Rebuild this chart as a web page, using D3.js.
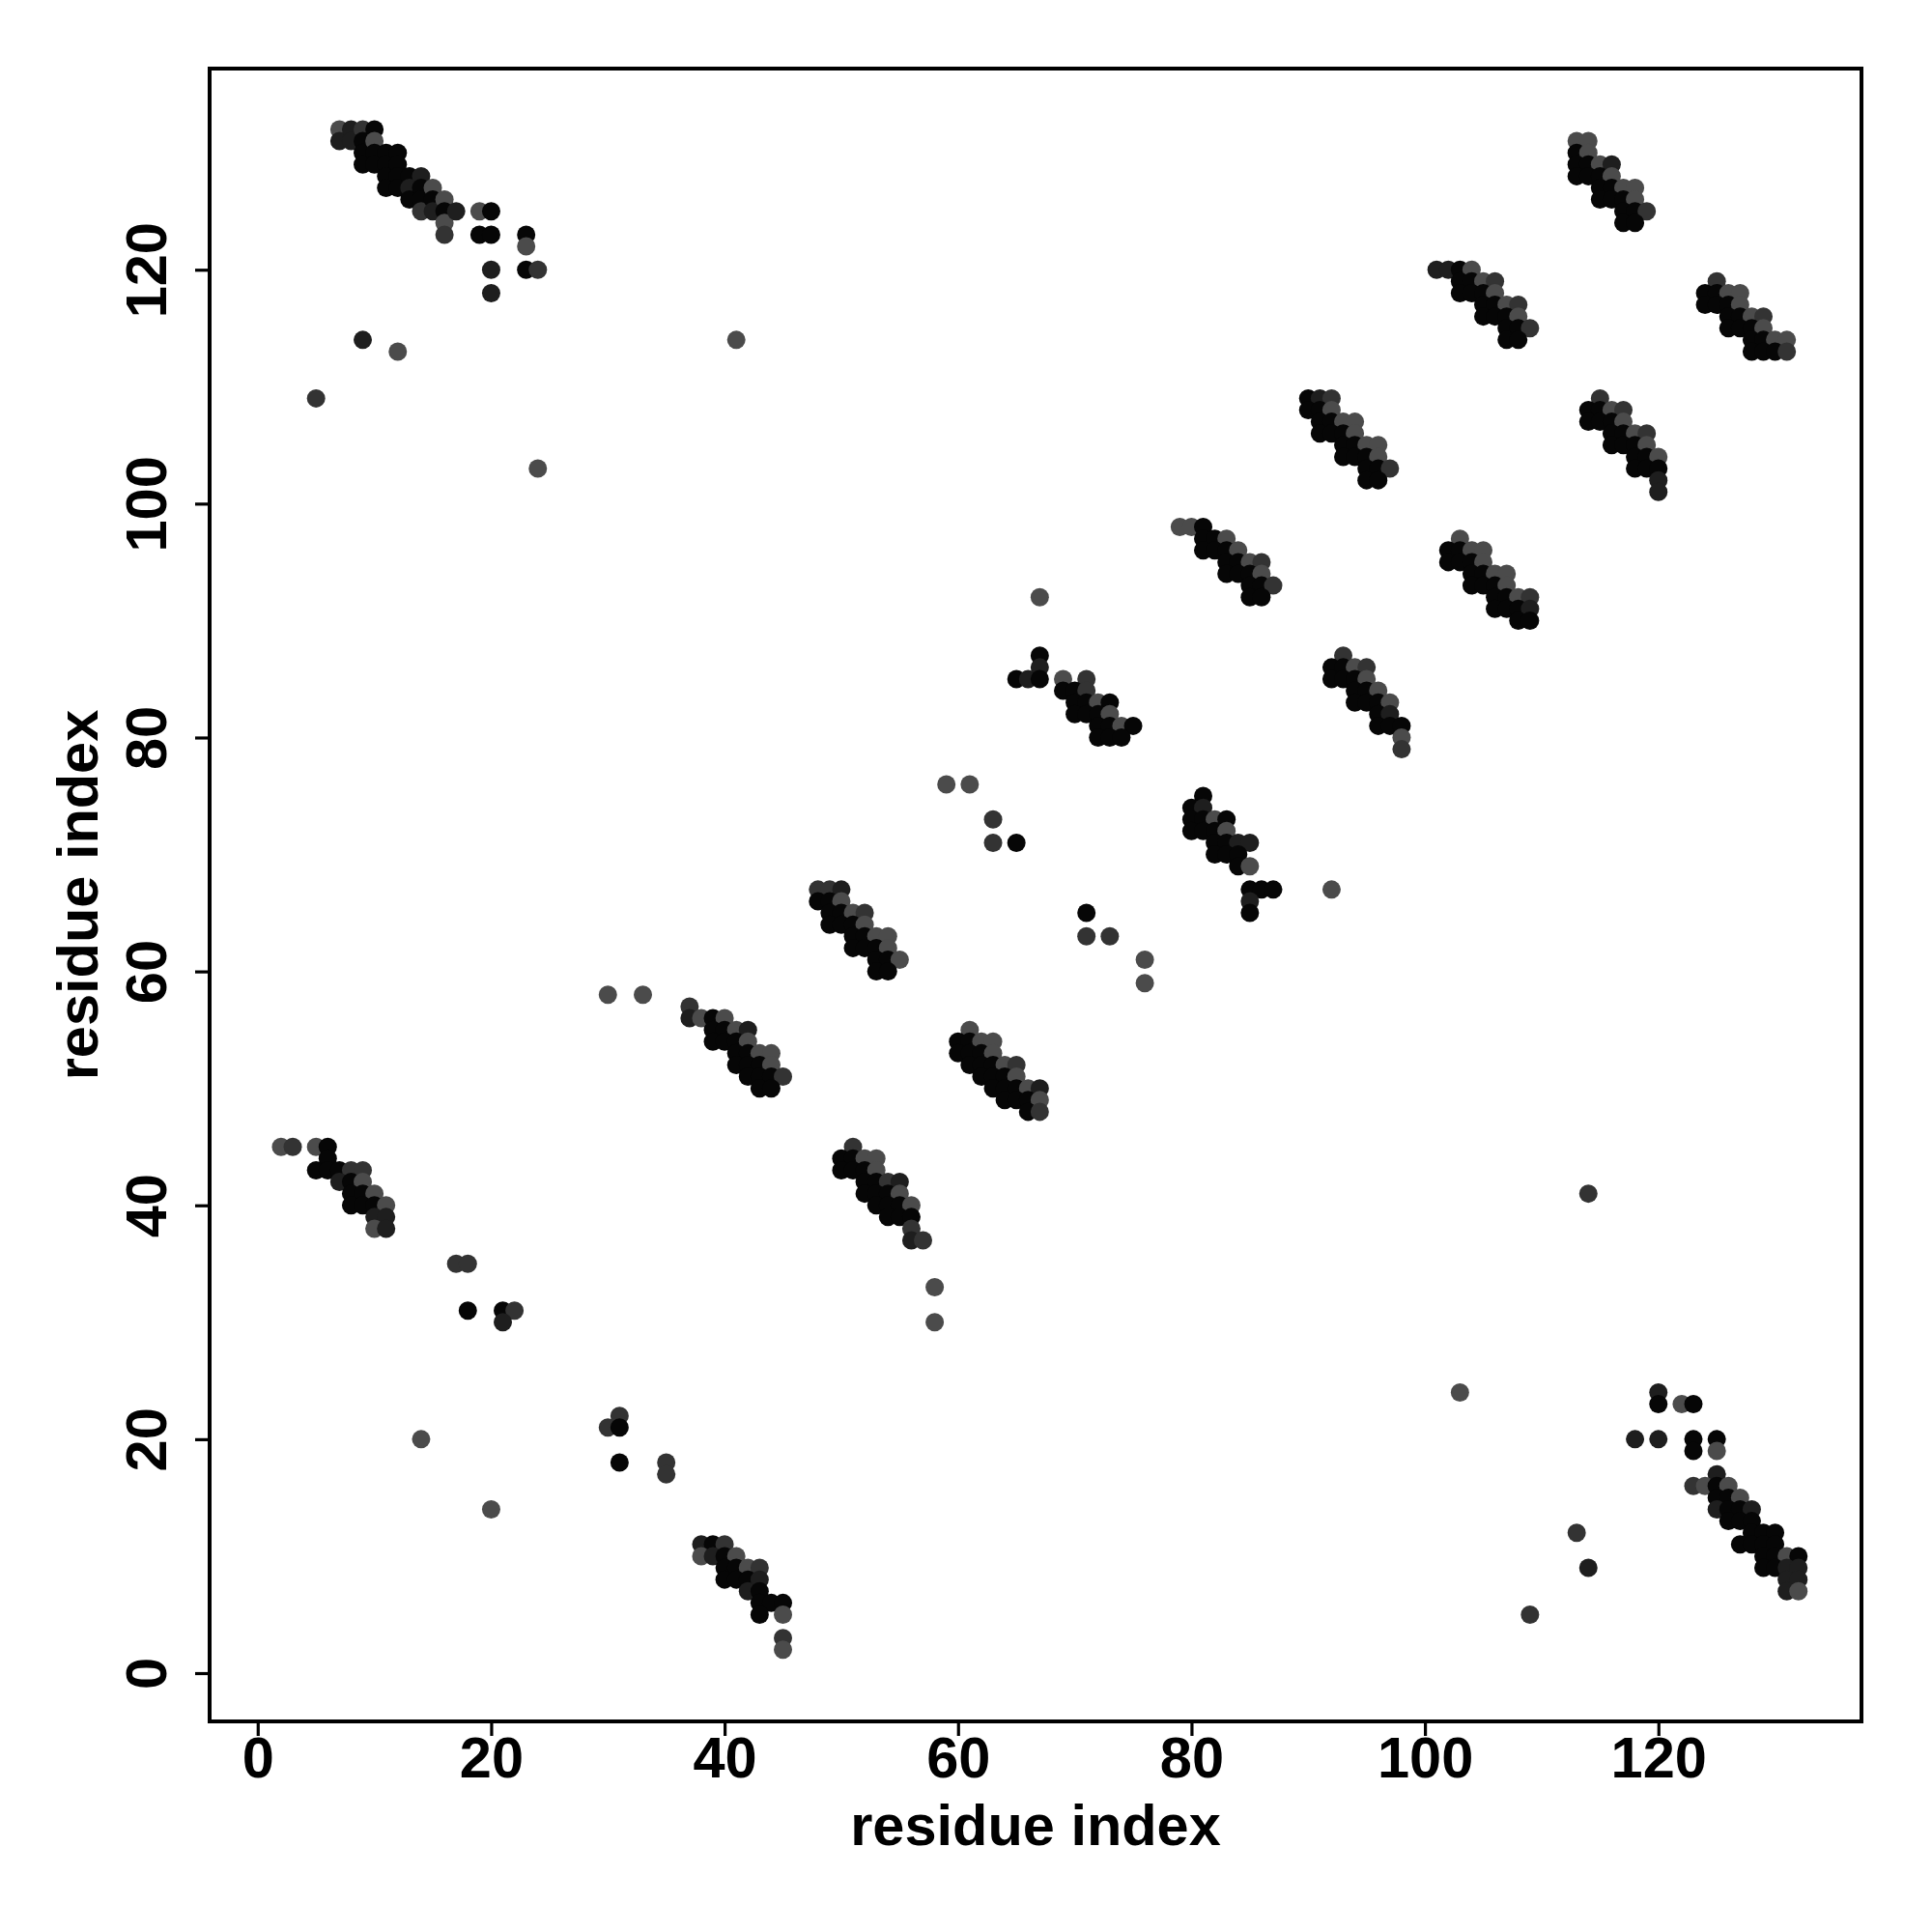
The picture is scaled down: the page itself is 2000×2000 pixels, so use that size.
<!DOCTYPE html>
<html>
<head>
<meta charset="utf-8">
<script src="https://cdn.jsdelivr.net/npm/d3@7"></script>
<style>
  html, body { margin: 0; padding: 0; background: #ffffff; }
  svg { display: block; }
  text { font-family: "Liberation Sans", Arial, Helvetica, sans-serif; font-weight: bold; }
</style>
</head>
<body>
<script>
// ---- data: contacts as [residue i, residue j, tone] ; tone 0 = darkest ... 3 = lightest grey ----
const xTicks = [0, 20, 40, 60, 80, 100, 120];
const yTicks = [0, 20, 40, 60, 80, 100, 120];
const axisLabelX = "residue index";
const axisLabelY = "residue index";
const toneColors = ["#060606", "#1e1e1e", "#333333", "#4b4b4b"];

const bandTopLeft = [
  [7,132,3],[7,131,1],[8,132,1],[8,131,1],[9,132,2],[9,131,0],[9,130,0],[9,129,0],
  [10,132,0],[10,131,3],[10,130,0],[10,129,0],[11,130,0],[11,129,0],[11,128,0],[11,127,0],
  [12,130,0],[12,129,0],[12,128,0],[12,127,0],[13,128,0],[13,127,1],[13,126,0],
  [14,128,1],[14,127,0],[14,126,0],[14,125,2],[15,127,3],[15,126,0],[15,125,1],
  [16,126,3],[16,125,0],[16,124,3],[16,123,2],[17,125,1],[19,125,3],[19,123,0],
  [20,125,0],[20,123,0],[20,120,1],[20,118,1],[23,123,0],[23,122,3],[23,120,0],[24,120,2]
];
const scatterTopLeft = [[9,114,1],[12,113,3],[5,109,2],[24,103,3],[41,114,3]];

const bandLeft = [
  [2,45,3],[3,45,2],[5,45,3],[6,45,0],[6,44,0],[5,43,0],[6,43,0],[7,43,0],[8,43,2],[9,43,2],
  [7,42,1],[8,42,0],[9,42,3],[8,41,0],[9,41,0],[10,41,3],[8,40,0],[9,40,0],[10,40,0],[11,40,3],
  [10,39,1],[11,39,1],[10,38,3],[11,38,1]
];
const scatterLeft = [[17,35,2],[18,35,2],[18,31,0],[21,31,0],[22,31,2],[21,30,1],[14,20,3],[20,14,3]];

const bandBottom = [
  [31,22,2],[30,21,2],[31,21,0],[31,18,0],[35,18,2],[35,17,2],
  [38,11,1],[39,11,0],[40,11,2],[38,10,3],[39,10,1],[40,10,0],[41,10,3],[40,9,0],[41,9,0],[42,9,3],[43,9,2],
  [40,8,0],[41,8,0],[42,8,0],[43,8,1],[42,7,1],[43,7,0],[43,6,0],[44,6,0],[45,6,0],[43,5,0],[45,5,3],
  [45,3,2],[45,2,3]
];

const band37_57 = [
  [30,58,3],[33,58,3],
  [37,57,2],[37,56,1],[38,56,3],[39,56,0],[40,56,3],[39,55,0],[40,55,0],[41,55,3],[42,55,1],
  [39,54,0],[40,54,0],[41,54,0],[42,54,3],[41,53,0],[42,53,0],[43,53,3],[44,53,3],
  [41,52,0],[42,52,0],[43,52,0],[44,52,3],[42,51,0],[43,51,0],[44,51,0],[45,51,2],[43,50,0],[44,50,0]
];
const band50_45 = [
  [51,45,2],[50,44,0],[51,44,0],[52,44,3],[53,44,3],[50,43,0],[51,43,0],[52,43,0],[53,43,3],
  [52,42,0],[53,42,0],[54,42,2],[55,42,1],[52,41,0],[53,41,0],[54,41,0],[55,41,3],
  [53,40,0],[54,40,0],[55,40,0],[56,40,3],[54,39,0],[55,39,0],[56,39,0],[56,38,2],[56,37,1],[57,37,2],
  [58,33,3],[58,30,3]
];
const band48_67 = [
  [48,67,2],[49,67,2],[50,67,1],[48,66,0],[49,66,0],[50,66,3],[49,65,0],[50,65,0],[51,65,3],[52,65,2],
  [49,64,0],[50,64,0],[51,64,0],[52,64,3],[51,63,0],[52,63,0],[53,63,3],[54,63,3],
  [51,62,0],[52,62,0],[53,62,0],[54,62,3],[53,61,0],[54,61,0],[55,61,3],[53,60,0],[54,60,0]
];
const band60_55 = [
  [61,55,3],[60,54,0],[61,54,0],[62,54,3],[63,54,3],[60,53,0],[61,53,0],[62,53,0],[63,53,3],
  [61,52,0],[62,52,0],[63,52,0],[64,52,3],[65,52,2],[62,51,0],[63,51,0],[64,51,0],[65,51,3],
  [63,50,0],[64,50,0],[65,50,0],[66,50,3],[67,50,1],[64,49,0],[65,49,0],[66,49,0],[67,49,3],
  [66,48,0],[67,48,2]
];
const band65_87 = [
  [67,92,3],[67,87,0],[67,86,1],[65,85,0],[66,85,1],[67,85,0],
  [69,85,3],[71,85,2],[69,84,0],[70,84,0],[71,84,2],[70,83,0],[71,83,0],[72,83,3],[73,83,0],
  [70,82,0],[71,82,0],[72,82,0],[73,82,3],[72,81,0],[73,81,0],[74,81,3],[75,81,0],[72,80,0],[73,80,0],[74,80,0]
];
const scatterMiddle = [
  [59,76,3],[61,76,3],[63,73,2],[63,71,2],[65,71,0],[71,65,0],[71,63,2],[73,63,2],[76,61,3],[76,59,3],[92,67,3]
];
const band80_75 = [
  [81,75,0],[80,74,0],[81,74,1],[80,73,0],[81,73,0],[82,73,3],[83,73,0],[80,72,0],[81,72,0],[82,72,0],[83,72,3],
  [82,71,0],[83,71,0],[84,71,1],[85,71,1],[82,70,0],[83,70,0],[84,70,0],[84,69,0],[85,69,3],
  [85,67,0],[86,67,0],[87,67,0],[85,66,1],[85,65,0]
];
const band79_98 = [
  [79,98,3],[80,98,3],[81,98,0],[81,97,0],[82,97,0],[83,97,3],[81,96,0],[82,96,0],[83,96,0],[84,96,3],
  [83,95,0],[84,95,0],[85,95,3],[86,95,2],[83,94,0],[84,94,0],[85,94,0],[86,94,3],
  [85,93,0],[86,93,0],[87,93,2],[85,92,0],[86,92,0]
];
const band90_109 = [
  [90,109,0],[91,109,1],[92,109,2],[90,108,0],[91,108,0],[92,108,3],[91,107,0],[92,107,0],[93,107,3],[94,107,3],
  [91,106,0],[92,106,0],[93,106,0],[94,106,3],[93,105,0],[94,105,0],[95,105,3],[96,105,3],
  [93,104,0],[94,104,0],[95,104,0],[96,104,3],[95,103,0],[96,103,0],[97,103,2],[95,102,0],[96,102,0]
];
const band92_87 = [
  [93,87,2],[92,86,0],[93,86,0],[94,86,3],[95,86,2],[92,85,0],[93,85,0],[94,85,0],[95,85,3],
  [94,84,0],[95,84,0],[96,84,3],[94,83,0],[95,83,0],[96,83,0],[97,83,3],[96,82,0],[97,82,1],
  [96,81,0],[97,81,0],[98,81,0],[98,80,3],[98,79,2]
];
const band101_120 = [
  [101,120,1],[102,120,1],[103,120,0],[104,120,3],[103,119,0],[104,119,0],[105,119,3],[106,119,2],
  [103,118,0],[104,118,0],[105,118,0],[106,118,3],[105,117,0],[106,117,0],[107,117,3],[108,117,2],
  [105,116,0],[106,116,0],[107,116,0],[108,116,3],[107,115,0],[108,115,0],[109,115,2],[107,114,0],[108,114,0]
];
const band102_97 = [
  [103,97,3],[102,96,0],[103,96,0],[104,96,3],[105,96,3],[102,95,0],[103,95,0],[104,95,0],[105,95,3],
  [104,94,0],[105,94,0],[106,94,3],[107,94,3],[104,93,0],[105,93,0],[106,93,0],[107,93,3],
  [106,92,0],[107,92,0],[108,92,3],[109,92,2],[106,91,0],[107,91,0],[108,91,0],[109,91,1],[108,90,0],[109,90,0]
];
const band113_131 = [
  [113,131,3],[114,131,3],[113,130,0],[114,130,3],[113,129,0],[114,129,0],[115,129,3],[116,129,1],
  [113,128,0],[114,128,0],[115,128,0],[116,128,3],[115,127,0],[116,127,0],[117,127,3],[118,127,3],
  [115,126,0],[116,126,0],[117,126,0],[118,126,3],[117,125,0],[118,125,0],[119,125,2],[117,124,0],[118,124,0]
];
const band114_109 = [
  [115,109,2],[114,108,0],[115,108,0],[116,108,3],[117,108,2],[114,107,0],[115,107,0],[116,107,0],[117,107,3],
  [116,106,0],[117,106,0],[118,106,3],[119,106,2],[116,105,0],[117,105,0],[118,105,0],[119,105,3],
  [118,104,0],[119,104,0],[120,104,3],[118,103,0],[119,103,0],[120,103,0],[120,102,1],[120,101,1]
];
const band124_119 = [
  [125,119,2],[124,118,0],[125,118,0],[126,118,3],[127,118,3],[124,117,0],[125,117,0],[126,117,0],[127,117,3],
  [126,116,0],[127,116,0],[128,116,3],[129,116,2],[126,115,0],[127,115,0],[128,115,0],[129,115,3],
  [128,114,0],[129,114,0],[130,114,3],[131,114,3],[128,113,0],[129,113,0],[130,113,0],[131,113,2]
];
const bandBottomRight = [
  [120,24,1],[120,23,0],[122,23,3],[123,23,0],[118,20,1],[120,20,1],[123,20,0],[125,20,0],[123,19,0],[125,19,3],
  [125,17,1],[123,16,2],[124,16,3],[125,16,0],[126,16,3],[125,15,0],[126,15,0],[127,15,3],
  [125,14,1],[126,14,0],[127,14,0],[128,14,1],[126,13,0],[127,13,0],[128,13,0],[128,12,0],[129,12,0],[130,12,0],
  [127,11,0],[128,11,0],[129,11,0],[130,11,0],[129,10,0],[130,10,0],[131,10,3],[132,10,0],
  [129,9,0],[130,9,0],[131,9,1],[132,9,1],[131,8,1],[132,8,1],[131,7,1],[132,7,3]
];
const scatterRight = [[114,41,2],[103,24,3],[113,12,2],[114,9,1],[109,5,2]];

const contacts = [].concat(
  bandTopLeft, scatterTopLeft, bandLeft, scatterLeft, bandBottom, band37_57, band50_45,
  band48_67, band60_55, band65_87, scatterMiddle, band80_75, band79_98, band90_109, band92_87,
  band101_120, band102_97, band113_131, band114_109, band124_119, bandBottomRight, scatterRight
);

// ---- layout ----
const W = 2000, H = 2000;
const plot = { left: 217, right: 1927, top: 71, bottom: 1782 };

const x = d3.scaleLinear()
  .domain([-4.12, 137.4])
  .range([plot.left, plot.right]);
const y = d3.scaleLinear()
  .domain([-4.13, 137.2])
  .range([plot.bottom, plot.top]);

const svg = d3.select("body").append("svg")
  .attr("width", W).attr("height", H);

svg.append("rect").attr("width", W).attr("height", H).attr("fill", "#ffffff");

// points
svg.append("g")
  .selectAll("circle")
  .data(contacts)
  .join("circle")
  .attr("cx", d => x(d[0]))
  .attr("cy", d => y(d[1]))
  .attr("r", 9.5)
  .attr("fill", d => toneColors[d[2]]);

// axes
const fontSize = 59.5;
const xAxis = d3.axisBottom(x).tickValues(xTicks).tickSize(15).tickPadding(6).tickFormat(d3.format("d"));
const gx = svg.append("g").attr("transform", `translate(0,${plot.bottom})`).call(xAxis);
gx.select(".domain").remove();
gx.selectAll(".tick line").attr("stroke", "#000").attr("stroke-width", 3.2);
gx.selectAll(".tick text").attr("font-size", fontSize).attr("fill", "#000")
  .attr("font-family", "'Liberation Sans', Arial, sans-serif").attr("font-weight", "bold")
  .attr("dy", null).attr("y", 58);

const yAxis = d3.axisLeft(y).tickValues(yTicks).tickSize(15).tickPadding(6).tickFormat(d3.format("d"));
const gy = svg.append("g").attr("transform", `translate(${plot.left},0)`).call(yAxis);
gy.select(".domain").remove();
gy.selectAll(".tick line").attr("stroke", "#000").attr("stroke-width", 3.2);
gy.selectAll(".tick text").attr("font-size", fontSize).attr("fill", "#000")
  .attr("font-family", "'Liberation Sans', Arial, sans-serif").attr("font-weight", "bold")
  .attr("x", null).attr("dy", null)
  .attr("text-anchor", "middle")
  .attr("transform", "translate(-45,0) rotate(-90)");

// box
svg.append("rect")
  .attr("x", plot.left).attr("y", plot.top)
  .attr("width", plot.right - plot.left).attr("height", plot.bottom - plot.top)
  .attr("fill", "none").attr("stroke", "#000").attr("stroke-width", 4);

// axis titles
svg.append("text")
  .attr("x", (plot.left + plot.right) / 2).attr("y", 1910)
  .attr("text-anchor", "middle").attr("font-size", fontSize).attr("fill", "#000")
  .text(axisLabelX);
svg.append("text")
  .attr("transform", `translate(101,${(plot.top + plot.bottom) / 2}) rotate(-90)`)
  .attr("text-anchor", "middle").attr("font-size", fontSize).attr("fill", "#000")
  .text(axisLabelY);
</script>
</body>
</html>
